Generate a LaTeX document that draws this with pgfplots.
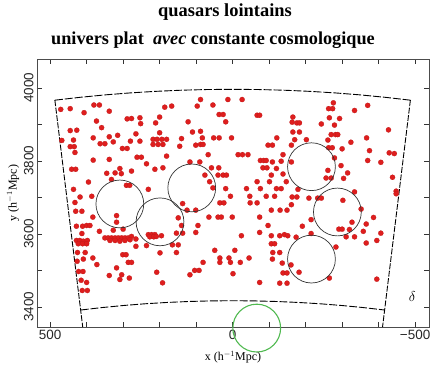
\documentclass[border=0pt]{standalone}
\usepackage{pgfplots}
\usepackage{pgfplotstable}
\pgfplotsset{compat=1.18}
\usepackage{fontspec}
\setmainfont{Liberation Serif}
\setsansfont{Liberation Sans}
\definecolor{qred}{RGB}{222,30,30}
\definecolor{cgreen}{RGB}{80,185,80}
\pgfplotstableread{
x y
471 3941
445 3943
407 3932
380 3953
365 3953
338 3936
289 3915
277 3916
254 3918
373 3909
252 3902
359 3891
211 3904
200 3920
186 3947
445 3883
427 3884
468 3856
436 3857
382 3863
338 3866
315 3870
265 3874
200 3877
218 3859
207 3859
194 3859
181 3859
363 3847
350 3847
327 3852
280 3854
254 3854
445 3839
434 3839
432 3823
302 3834
289 3834
218 3845
204 3845
191 3845
382 3802
338 3804
262 3810
250 3810
236 3792
181 3813
441 3777
430 3777
309 3779
345 3766
322 3767
305 3765
277 3772
213 3777
191 3781
395 3742
332 3749
291 3733
282 3733
436 3722
231 3722
88 3968
13 3968
-26 3968
167 3950
97 3950
54 3953
37 3927
26 3927
-67 3925
-74 3925
122 3907
19 3907
110 3879
88 3881
140 3861
83 3863
52 3863
37 3863
3 3863
101 3843
88 3845
81 3845
145 3840
-97 3843
-109 3843
-121 3863
67 3817
-15 3817
-27 3817
-42 3817
117 3797
90 3797
-76 3801
-85 3801
-92 3801
-109 3797
-133 3799
-138 3817
58 3781
38 3781
-83 3781
-94 3781
-120 3779
76 3761
40 3761
26 3761
17 3761
-106 3761
-138 3764
63 3743
54 3726
19 3724
-38 3724
-67 3743
-76 3724
-101 3743
-120 3724
-133 3724
-147 3743
-276 3959
-370 3952
-263 3943
-274 3943
-334 3938
-165 3920
-265 3918
-293 3916
-163 3906
-176 3904
-183 3904
-243 3901
-279 3898
-165 3879
-183 3879
-427 3885
-270 3872
-282 3872
-288 3872
-170 3858
-202 3858
-261 3857
-367 3863
-324 3851
-161 3843
-263 3836
-273 3836
-300 3833
-375 3828
-429 3822
-443 3820
-279 3808
-161 3797
-370 3801
-406 3796
-297 3787
-261 3774
-315 3767
-256 3753
-270 3753
-304 3752
-438 3755
-179 3722
-334 3715
-448 3717
418 3701
386 3703
432 3686
430 3662
413 3662
383 3646
318 3650
318 3632
411 3621
400 3623
391 3623
428 3621
413 3601
365 3607
327 3610
300 3613
428 3582
419 3582
409 3580
398 3582
423 3573
411 3573
400 3573
350 3589
341 3589
332 3589
322 3589
313 3589
304 3589
295 3589
286 3589
277 3593
336 3582
322 3582
309 3580
295 3582
281 3584
265 3586
231 3598
222 3598
213 3598
227 3592
216 3592
209 3593
195 3595
265 3566
236 3568
425 3549
404 3549
409 3531
383 3534
301 3543
292 3543
426 3525
372 3516
286 3522
277 3522
199 3548
422 3497
410 3497
318 3507
338 3486
304 3488
309 3475
283 3479
208 3495
415 3473
400 3467
192 3466
412 3445
398 3445
6 3703
-47 3703
-92 3703
-115 3703
137 3683
35 3685
24 3685
-48 3685
-67 3685
125 3665
101 3665
-106 3665
-130 3665
-149 3665
149 3644
65 3646
40 3646
31 3646
1 3646
-74 3646
140 3623
95 3623
-97 3623
154 3602
137 3602
101 3604
-24 3595
-74 3604
-106 3595
-129 3595
-142 3598
-151 3595
165 3570
149 3570
-106 3573
-115 3573
154 3549
49 3555
-6 3555
-110 3549
-129 3549
35 3534
35 3522
10 3534
6 3522
-21 3522
-45 3534
81 3522
-109 3531
-136 3520
104 3500
92 3500
117 3488
-1 3491
-138 3493
-149 3493
-74 3467
-129 3465
-149 3465
-163 3701
-176 3701
-209 3698
-233 3698
-243 3698
-302 3692
-161 3680
-352 3668
-386 3645
-215 3639
-327 3632
-366 3627
-191 3621
-291 3613
-300 3613
-320 3612
-358 3607
-406 3602
-174 3591
-215 3601
-311 3592
-334 3592
-395 3582
-366 3575
-283 3564
-160 3515
-182 3495
-265 3479
-395 3476
-448 3710
}\quasars
\begin{document}
\begin{tikzpicture}
\begin{axis}[
  scale only axis, width=392bp, height=268bp,
  xmin=-538, xmax=536, x dir=reverse,
  ymin=3345, ymax=4079,
  xtick={-500,0,500}, xticklabels={−500,0,500},
  minor xtick={-400,-300,-200,-100,100,200,300,400},
  ytick={3400,3600,3800,4000}, yticklabels={3400,3600,3800,4000},
  minor ytick={3500,3700,3900},
  tick align=inside, major tick length=5bp, minor tick length=5bp,
  every tick/.style={black!80, line width=0.5pt},
  axis line style={black!70, line width=0.6pt},
  tick label style={font=\sffamily\fontsize{13.5}{14}\selectfont, black!85},
  yticklabel style={rotate=90, anchor=south},
  xlabel={x (h$^{-1}$Mpc)}, ylabel={y (h$^{-1}$Mpc)},
  label style={font=\fontsize{12}{13}\selectfont},
  xlabel style={yshift=-4bp},
  ylabel style={yshift=-2bp},
  clip=false,
]
\addplot[black, line width=0.9pt, dash pattern=on 8pt off 2pt] coordinates {
 (487.0,3966.2)(417.7,3974.1)(348.3,3980.8)(278.7,3986.3)(209.1,3990.5)(139.5,3993.6)(69.7,3995.4)(0,3996)
 (-69.7,3995.4)(-139.5,3993.6)(-209.1,3990.5)(-278.7,3986.3)(-348.3,3980.8)(-417.7,3974.1)(-487.0,3966.2)};
\addplot[black, line width=0.9pt, dash pattern=on 8pt off 2pt] coordinates {
 (416.4,3391.5)(357.2,3398.3)(297.8,3404.0)(238.4,3408.7)(178.8,3412.3)(119.3,3414.9)(59.6,3416.5)(0,3417)
 (-59.6,3416.5)(-119.3,3414.9)(-178.8,3412.3)(-238.4,3408.7)(-297.8,3404.0)(-357.2,3398.3)(-416.4,3391.5)};
\addplot[black, line width=0.9pt, dash pattern=on 6pt off 1.5pt] coordinates {(487.0,3966.2)(410.7,3345)};
\addplot[black, line width=0.9pt, dash pattern=on 6pt off 1.5pt] coordinates {(-487.0,3966.2)(-410.7,3345)};
\addplot[only marks, mark=*, mark size=2.6pt, mark options={fill=qred, draw=qred!85!black, line width=0.2pt}] table {\quasars};
\addplot[only marks, mark=o, mark size=24pt, mark options={draw=black!80, line width=0.7pt}] coordinates {
 (309,3682)(199,3633)(112,3726)(-216,3784)(-287,3660)(-216,3531)};
\addplot[only marks, mark=o, mark size=24pt, mark options={draw=cgreen, line width=1.1pt}] coordinates {(-66,3342)};
\node[font=\fontsize{15}{16}\selectfont] at (axis cs:-492,3428) {$\delta$};
\end{axis}
\node[font=\bfseries\fontsize{18.5}{21}\selectfont] at ([shift={(-8bp,47bp)}]current axis.north) {quasars lointains};
\node[font=\bfseries\fontsize{18.3}{21}\selectfont] at ([shift={(-20bp,19bp)}]current axis.north) {univers plat\ \ \textit{avec} constante cosmologique};
\pgfresetboundingbox
\path ([shift={(-37bp,-42bp)}]current axis.south west) rectangle ([shift={(8bp,59bp)}]current axis.north east);
\end{tikzpicture}
\end{document}
